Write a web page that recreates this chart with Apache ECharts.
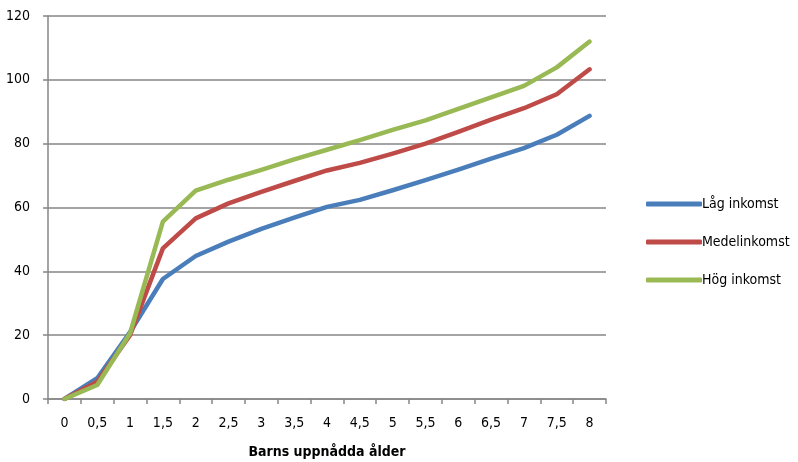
<!DOCTYPE html>
<html>
<head>
<meta charset="utf-8">
<script src="https://cdn.jsdelivr.net/npm/echarts@6/dist/echarts.min.js"></script>
<style>
  html, body { margin: 0; padding: 0; background: #fff; }
  #chart { width: 798px; height: 462px; }
</style>
</head>
<body>
<div id="chart"></div>
<script>
// Age categories (years) and tick labels with decimal comma
const ages = ['0', '0,5', '1', '1,5', '2', '2,5', '3', '3,5', '4', '4,5', '5', '5,5', '6', '6,5', '7', '7,5', '8'];

const lagInkomst   = [0, 6.5, 21, 37.6, 44.8, 49.3, 53.3, 56.8, 60.2, 62.4, 65.4, 68.6, 71.9, 75.3, 78.6, 82.8, 88.7];
const medelInkomst = [0, 5.4, 20, 47.2, 56.6, 61.3, 64.9, 68.3, 71.6, 74.0, 76.9, 80.0, 83.7, 87.5, 91.1, 95.5, 103.3];
const hogInkomst   = [0, 4.4, 20.6, 55.6, 65.3, 68.7, 71.8, 75.1, 78.1, 81.1, 84.3, 87.3, 90.9, 94.5, 98.1, 103.9, 112.0];

const seriesNames = ['Låg inkomst', 'Medelinkomst', 'Hög inkomst'];
const xTitle = 'Barns uppnådda ålder';

// Narrow face: the 'condensed' keyword goes into the canvas font shorthand via fontWeight
const FONT = '"DejaVu Sans Condensed", "DejaVu Sans", sans-serif';
const W_NORMAL = 'condensed';
const W_BOLD = 'bold condensed';
const colors = ['#4a7ebb', '#be4b48', '#98b954'];

const chart = echarts.init(document.getElementById('chart'), null, { renderer: 'canvas' });

function lineSeries(name, data, color) {
  return {
    name: name,
    type: 'line',
    data: data,
    symbol: 'none',
    smooth: false,
    lineStyle: { width: 4.5, color: color, cap: 'round', join: 'round' },
    itemStyle: { color: color },
    animation: false
  };
}

chart.setOption({
  backgroundColor: '#ffffff',
  textStyle: { fontFamily: FONT },
  grid: { left: 48, right: 192, top: 16, bottom: 63, containLabel: false, outerBoundsMode: 'none' },
  legend: {
    orient: 'vertical',
    left: 646,
    top: 197,
    padding: 0,
    itemWidth: 56,
    itemHeight: 5,
    itemGap: 24,
    icon: 'roundRect',
    textStyle: { fontFamily: FONT, fontWeight: W_NORMAL, fontSize: 14, color: '#000', padding: [0, 0, 0, -5] },
    data: seriesNames
  },
  xAxis: {
    type: 'category',
    data: ages,
    boundaryGap: true,
    name: xTitle,
    nameLocation: 'middle',
    nameGap: 46,
    nameTextStyle: { fontFamily: FONT, fontWeight: W_BOLD, fontSize: 14, color: '#000' },
    axisLine: { lineStyle: { color: '#868686', width: 1.5 } },
    axisTick: { show: true, length: 5, interval: 0, lineStyle: { color: '#868686', width: 1.5 } },
    axisLabel: { fontFamily: FONT, fontWeight: W_NORMAL, fontSize: 14, color: '#000', margin: 17, interval: 0 },
    splitLine: { show: false }
  },
  yAxis: {
    type: 'value',
    min: 0,
    max: 120,
    interval: 20,
    axisLine: { show: true, lineStyle: { color: '#868686', width: 1.5 } },
    axisTick: { show: true, length: 5, lineStyle: { color: '#868686', width: 1.5 } },
    axisLabel: { fontFamily: FONT, fontWeight: W_NORMAL, fontSize: 14, color: '#000', margin: 18 },
    splitLine: { show: true, lineStyle: { color: '#868686', width: 1.5 } }
  },
  series: [
    lineSeries(seriesNames[0], lagInkomst, colors[0]),
    lineSeries(seriesNames[1], medelInkomst, colors[1]),
    lineSeries(seriesNames[2], hogInkomst, colors[2])
  ]
});
</script>
</body>
</html>
